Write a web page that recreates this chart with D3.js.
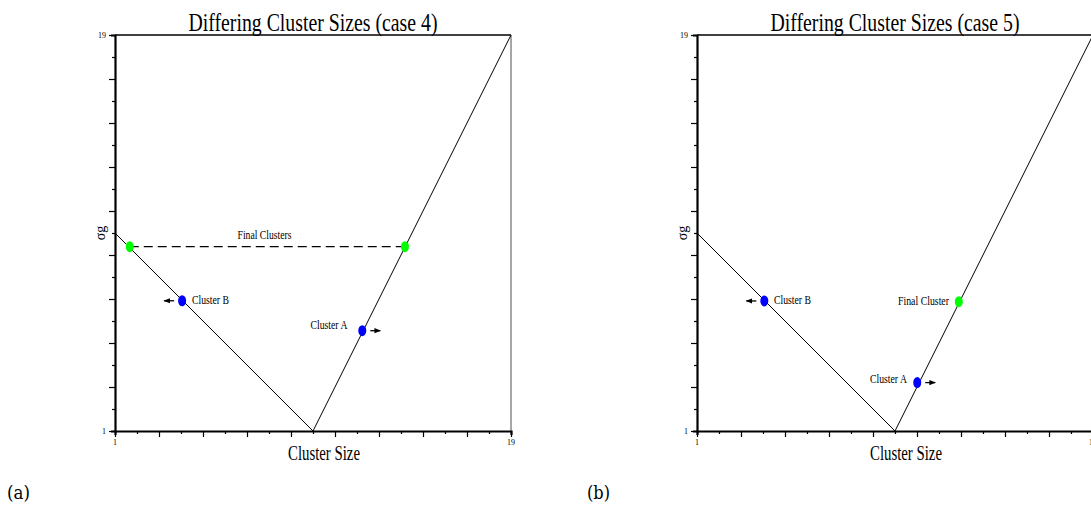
<!DOCTYPE html>
<html>
<head>
<meta charset="utf-8">
<script src="https://cdn.jsdelivr.net/npm/d3@7"></script>
<style>
  body { margin: 0; background: #fff; }
  svg { display: block; }
  text { font-family: "Liberation Serif", "Times New Roman", serif; fill: #000; }
</style>
</head>
<body>
<svg id="chart" width="1091" height="507"></svg>
<script>
    // data
    const domainMin = 1,
        domainMax = 19,
        tickValues = d3.range(1, 20),
        endLabels = ["1", "19"],
        titles = ["Differing Cluster Sizes (case 4)", "Differing Cluster Sizes (case 5)"],
        subcaptions = ["(a)", "(b)"],
        xLabel = "Cluster Size",
        yLabel = "σg";

    // the V shaped curve, same in both cases
    const curve4 = [[1, 10], [10, 1], [19, 19]],
        curve5 = [[1, 10], [10, 1], [19, 19]];

    // clusters : [x, y, name, colour key, arrow dir]
    const clusters4 = [
        [1.67, 9.38, "", "final", 0],
        [14.18, 9.38, "", "final", 0],
        [4.05, 6.92, "Cluster B", "moving", -1],
        [12.24, 5.56, "Cluster A", "moving", 1]
    ];
    const clusters5 = [
        [4.06, 6.91, "Cluster B", "moving", -1],
        [12.9, 6.88, "Final Cluster", "final", 0],
        [11.01, 3.2, "Cluster A", "moving", 1]
    ];
    const finalLine4 = [[1.67, 9.38], [14.18, 9.38]];

    const colours = {final: "#00ff00", moving: "#0000ff"};

    let svg = d3.select('#chart'),
        size = 396;

    svg.append('defs').append('marker')
        .attr('id', 'head')
        .attr('viewBox', '0 0 10 10')
        .attr('refX', 9).attr('refY', 5)
        .attr('markerWidth', 5).attr('markerHeight', 5)
        .attr('orient', 'auto')
        .append('path').attr('d', 'M0,1L10,5L0,9Z').attr('fill', '#000');

    // label placement : [cluster index, anchor, page x, page y]
    const panels = [
        {left: 115, curve: curve4, clusters: clusters4, dashed: finalLine4,
         labels: [[3, "end", 347.5, 328.5], [2, "start", 192, 303.5]], extra: [[264.5, 239, "Final Clusters", 54]]},
        {left: 697, curve: curve5, clusters: clusters5, dashed: null,
         labels: [[0, "start", 774, 304], [1, "end", 949, 305], [2, "end", 907, 383]], extra: []}
    ];

    panels.forEach(function(p, i){
        let g = svg.append('g').attr('transform', 'translate(' + p.left + ',35)'),
            x = d3.scaleLinear().domain([domainMin, domainMax]).range([0, size]),
            y = d3.scaleLinear().domain([domainMin, domainMax]).range([size, 0]);

        // frame : top and right
        g.append('line').attr('x1', 0).attr('x2', size).attr('y1', 0).attr('y2', 0)
            .attr('stroke', '#000').attr('stroke-width', 1.5);
        g.append('line').attr('x1', size).attr('x2', size).attr('y1', 0).attr('y2', size)
            .attr('stroke', '#888').attr('stroke-width', 1.5);

        // axes
        let xAxis = g.append('g').attr('transform', 'translate(0,' + size + ')')
            .call(d3.axisBottom(x).tickValues(tickValues).tickFormat('').tickSizeOuter(0)
                .tickSize(4));
        let yAxis = g.append('g')
            .call(d3.axisLeft(y).tickValues(tickValues).tickFormat('').tickSizeOuter(0)
                .tickSize(4));
        [xAxis, yAxis].forEach(function(a){
            a.select('.domain').attr('stroke-width', 2.2);
            a.selectAll('.tick line').attr('stroke-width', 1.2);
        });
        xAxis.selectAll('.tick line').attr('y2', d => d % 2 ? 6 : 3);
        yAxis.selectAll('.tick line').attr('x2', d => d % 2 ? -6 : -3);

        // end labels
        g.selectAll('.xl').data(endLabels).join('text')
            .attr('x', d => x(+d)).attr('y', size + 14)
            .attr('text-anchor', 'middle').style('font-size', '8px').text(d => d);
        g.selectAll('.yl').data(endLabels).join('text')
            .attr('x', -9).attr('y', d => y(+d) + 2.5)
            .attr('text-anchor', 'end').style('font-size', '8px').text(d => d);

        // titles
        g.append('text').attr('x', size / 2).attr('y', -4)
            .attr('text-anchor', 'middle').style('font-size', '26px')
            .attr('textLength', 249).attr('lengthAdjust', 'spacingAndGlyphs')
            .text(titles[i]);
        g.append('text').attr('x', size / 2 + 11).attr('y', size + 29)
            .attr('text-anchor', 'middle').style('font-size', '20px')
            .attr('textLength', 72).attr('lengthAdjust', 'spacingAndGlyphs')
            .text(xLabel);
        g.append('text').attr('transform', 'translate(-10,' + y(10) + ') rotate(-90)')
            .attr('text-anchor', 'middle').style('font-size', '14px')
            .text(yLabel);

        // V curve
        g.append('path').datum(p.curve)
            .attr('d', d3.line().x(d => x(d[0])).y(d => y(d[1])))
            .attr('fill', 'none').attr('stroke', '#000').attr('stroke-width', 1);

        if (p.dashed) {
            g.append('path').datum(p.dashed)
                .attr('d', d3.line().x(d => x(d[0])).y(d => y(d[1])))
                .attr('fill', 'none').attr('stroke', '#000').attr('stroke-width', 1.2)
                .attr('stroke-dasharray', '9,5');
        }

        // arrows
        g.selectAll('.arrow').data(p.clusters.filter(c => c[4] !== 0)).join('line')
            .attr('x1', d => x(d[0]) + d[4] * 8).attr('x2', d => x(d[0]) + d[4] * 18)
            .attr('y1', d => y(d[1])).attr('y2', d => y(d[1]))
            .attr('stroke', '#000').attr('stroke-width', 1.3)
            .attr('marker-end', 'url(#head)');

        // dots
        g.selectAll('.dot').data(p.clusters).join('ellipse')
            .attr('cx', d => x(d[0])).attr('cy', d => y(d[1]))
            .attr('rx', 4).attr('ry', 5.5)
            .attr('fill', d => colours[d[3]]);

        // cluster names
        p.labels.forEach(function(l){
            g.append('text').attr('x', l[2] - p.left).attr('y', l[3] - 35)
                .attr('text-anchor', l[1]).style('font-size', '12px')
                .attr('textLength', p.clusters[l[0]][2] === "Final Cluster" ? 51 : 37)
                .attr('lengthAdjust', 'spacingAndGlyphs')
                .text(p.clusters[l[0]][2]);
        });
        p.extra.forEach(function(e){
            g.append('text').attr('x', e[0] - p.left).attr('y', e[1] - 35)
                .attr('text-anchor', 'middle').style('font-size', '12px')
                .attr('textLength', e[3]).attr('lengthAdjust', 'spacingAndGlyphs')
                .text(e[2]);
        });
    });

    // sub captions
    svg.selectAll('.sub').data(subcaptions).join('text')
        .attr('x', (d, i) => i ? 587 : 7).attr('y', 499)
        .style('font-family', '"DejaVu Serif", serif').style('font-size', '19px')
        .attr('textLength', 23).attr('lengthAdjust', 'spacingAndGlyphs')
        .text(d => d);
</script>
</body>
</html>
